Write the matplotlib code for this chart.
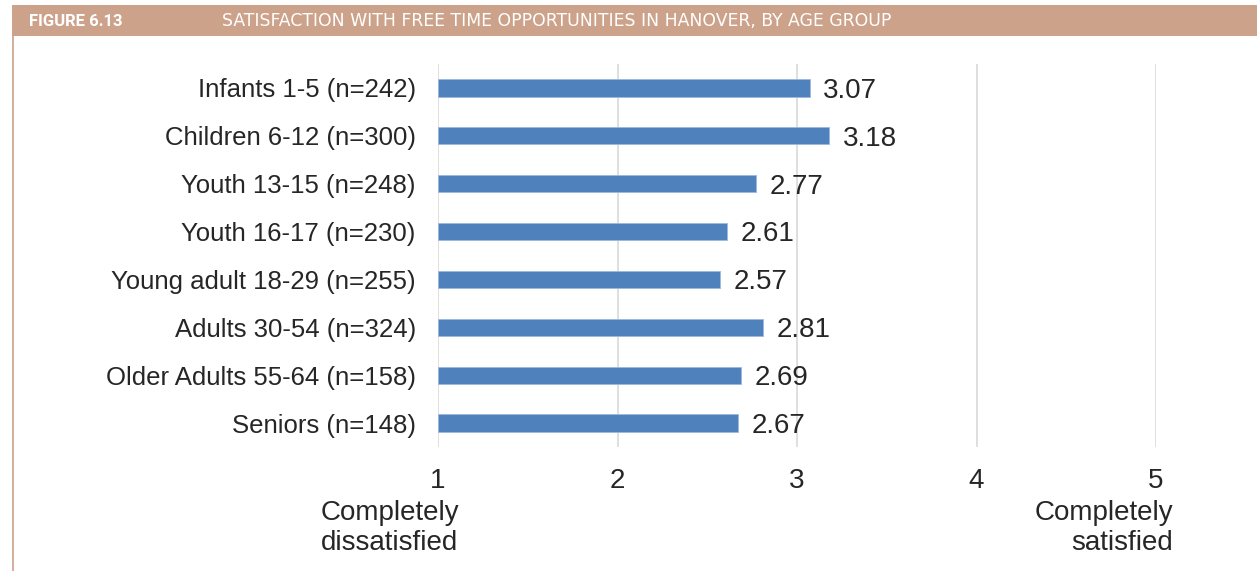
import matplotlib.pyplot as plt
from matplotlib.patches import Rectangle
from matplotlib.lines import Line2D

categories = [
    "Infants 1-5 (n=242)",
    "Children 6-12 (n=300)",
    "Youth 13-15 (n=248)",
    "Youth 16-17 (n=230)",
    "Young adult 18-29 (n=255)",
    "Adults 30-54 (n=324)",
    "Older Adults 55-64 (n=158)",
    "Seniors (n=148)",
]
scores = [3.07, 3.18, 2.77, 2.61, 2.57, 2.81, 2.69, 2.67]
x_ticks = [1, 2, 3, 4, 5]

W, H = 1257, 571
fig = plt.figure(figsize=(W / 100, H / 100), dpi=100)
plt.rcParams['font.family'] = ['Liberation Sans', 'DejaVu Sans']

# header band
header_col = "#CDA28A"
fig.patches.append(Rectangle((12 / W, 1 - 36 / H), 1 - 12 / W, 31 / H,
                             transform=fig.transFigure, facecolor=header_col,
                             edgecolor="none", zorder=0))
fig.lines.append(Line2D([12.5 / W, 12.5 / W], [0, 1 - 36 / H],
                        transform=fig.transFigure, color=header_col, lw=1.2))
fig.text(29 / W, 1 - 21 / H, "FIGURE 6.13", color="white", fontsize=12,
         fontweight="bold", va="center", ha="left",
         family=['Roboto', 'DejaVu Sans'])
fig.text(222 / W, 1 - 21 / H,
         "SATISFACTION WITH FREE TIME OPPORTUNITIES IN HANOVER, BY AGE GROUP",
         color="white", fontsize=12.4, va="center", ha="left",
         family=['DejaVu Sans'])

# plot area
x0, x1 = 438, 1156
y0, y1 = 64, 447
ax = fig.add_axes([x0 / W, 1 - y1 / H, (x1 - x0) / W, (y1 - y0) / H])
pos = list(range(len(categories)))
ax.barh(pos, [s - 1 for s in scores], left=1, height=0.36, color="#4F81BD",
        edgecolor="#9DB9DD", linewidth=0.6, zorder=3)
for p, s in zip(pos, scores):
    ax.text(s + 0.075, p + 0.06, f"{s:.2f}", va="center", ha="left",
            fontsize=20, color="#262626")

ax.set_xlim(1, 5)
ax.set_ylim(len(categories) - 0.5, -0.5)
ax.set_xticks(x_ticks)
ax.set_xticklabels([str(t) for t in x_ticks])
ax.set_yticks(pos)
ax.set_yticklabels(categories)
ax.tick_params(axis='y', length=0, pad=16, labelsize=18.5, labelcolor="#262626")
ax.tick_params(axis='x', length=0, pad=15, labelsize=20, labelcolor="#262626")
ax.grid(axis='x', color="#D9D9D9", lw=1.2, zorder=0)
for sp in ax.spines.values():
    sp.set_visible(False)

fig.text(390 / W, 1 - 528 / H, "Completely\ndissatisfied", ha="center",
         va="center", fontsize=20, color="#262626", linespacing=1.25)
fig.text(1173 / W, 1 - 528 / H, "Completely\nsatisfied", ha="right",
         va="center", fontsize=20, color="#262626", linespacing=1.25,
         multialignment="right")

fig.savefig("out.png", dpi=100)
